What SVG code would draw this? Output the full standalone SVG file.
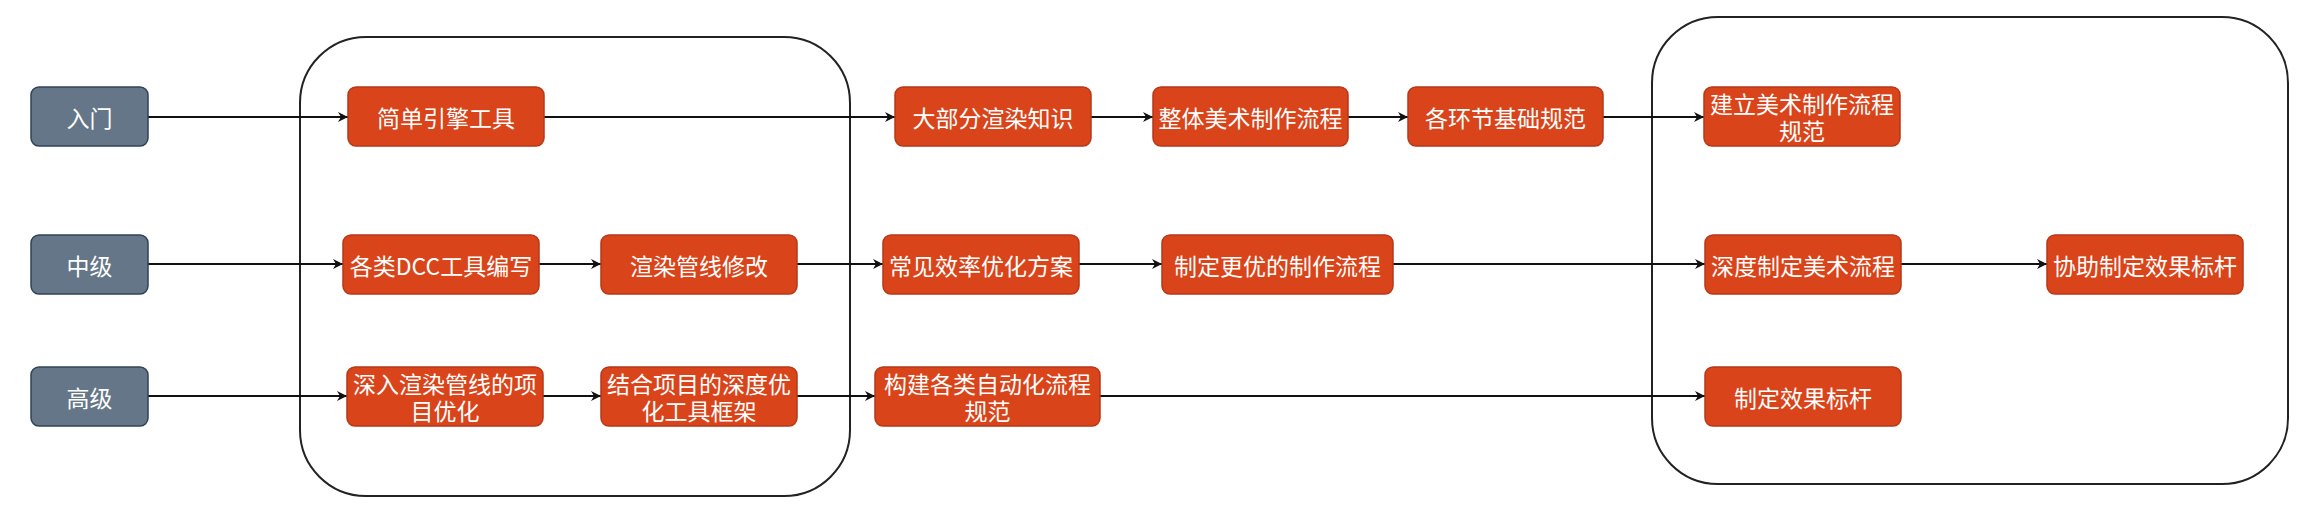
<svg xmlns="http://www.w3.org/2000/svg" width="2317" height="526" viewBox="0 0 2317 526">
<style>
.grp{fill:none;stroke:#222;stroke-width:2}
.lvl{fill:#647687;stroke:#314354;stroke-width:1.5}
.box{fill:#d9441a;stroke:#b5391a;stroke-width:1.5}
.t{font-family:"Noto Sans CJK SC","Noto Sans",sans-serif;font-size:23px;fill:#fff;text-anchor:middle;dominant-baseline:central}
.c{fill:none;stroke:#111;stroke-width:2;marker-end:url(#arr)}
</style>
<defs>
<marker id="arr" viewBox="0 0 10 10" refX="10" refY="5" markerWidth="10" markerHeight="10" markerUnits="userSpaceOnUse" orient="auto">
<path d="M0,0 L10,5 L0,10 L3,5 z" fill="#111"/>
</marker>
</defs>
<rect width="2317" height="526" fill="#fff"/>
<g id="group-left"><rect class="grp" x="300" y="37" width="550" height="459" rx="66" ry="66"/></g>
<g id="group-right"><rect class="grp" x="1652" y="17" width="636" height="467" rx="66" ry="66"/></g>
<g id="connectors">
<line class="c" x1="148" y1="117" x2="348" y2="117"/>
<line class="c" x1="544" y1="117" x2="895" y2="117"/>
<line class="c" x1="1091" y1="117" x2="1153" y2="117"/>
<line class="c" x1="1348" y1="117" x2="1408" y2="117"/>
<line class="c" x1="1603" y1="117" x2="1704" y2="117"/>
<line class="c" x1="148" y1="264" x2="343" y2="264"/>
<line class="c" x1="539" y1="264" x2="601" y2="264"/>
<line class="c" x1="797" y1="264" x2="883" y2="264"/>
<line class="c" x1="1079" y1="264" x2="1162" y2="264"/>
<line class="c" x1="1393" y1="264" x2="1705" y2="264"/>
<line class="c" x1="1901" y1="264" x2="2047" y2="264"/>
<line class="c" x1="148" y1="396" x2="347" y2="396"/>
<line class="c" x1="543" y1="396" x2="601" y2="396"/>
<line class="c" x1="797" y1="396" x2="875" y2="396"/>
<line class="c" x1="1100" y1="396" x2="1705" y2="396"/>
</g>
<g id="n-rumen"><rect class="lvl" x="31" y="87" width="117" height="59" rx="8"/><text class="t" x="89.5" y="116.5">入门</text></g>
<g id="n-zhongji"><rect class="lvl" x="31" y="235" width="117" height="59" rx="8"/><text class="t" x="89.5" y="264.5">中级</text></g>
<g id="n-gaoji"><rect class="lvl" x="31" y="367" width="117" height="59" rx="8"/><text class="t" x="89.5" y="396.5">高级</text></g>
<g id="n1"><rect class="box" x="348" y="87" width="196" height="59" rx="8"/><text class="t" x="446" y="116.5">简单引擎工具</text></g>
<g id="n2"><rect class="box" x="895" y="87" width="196" height="59" rx="8"/><text class="t" x="993" y="116.5">大部分渲染知识</text></g>
<g id="n3"><rect class="box" x="1153" y="87" width="195" height="59" rx="8"/><text class="t" x="1250.5" y="116.5">整体美术制作流程</text></g>
<g id="n4"><rect class="box" x="1408" y="87" width="195" height="59" rx="8"/><text class="t" x="1505.5" y="116.5">各环节基础规范</text></g>
<g id="n5"><rect class="box" x="1704" y="87" width="196" height="59" rx="8"/><text class="t" x="1802" y="103">建立美术制作流程</text><text class="t" x="1802" y="130">规范</text></g>
<g id="n6"><rect class="box" x="343" y="235" width="196" height="59" rx="8"/><text class="t" x="441" y="264.5">各类DCC工具编写</text></g>
<g id="n7"><rect class="box" x="601" y="235" width="196" height="59" rx="8"/><text class="t" x="699" y="264.5">渲染管线修改</text></g>
<g id="n8"><rect class="box" x="883" y="235" width="196" height="59" rx="8"/><text class="t" x="981" y="264.5">常见效率优化方案</text></g>
<g id="n9"><rect class="box" x="1162" y="235" width="231" height="59" rx="8"/><text class="t" x="1277.5" y="264.5">制定更优的制作流程</text></g>
<g id="n10"><rect class="box" x="1705" y="235" width="196" height="59" rx="8"/><text class="t" x="1803" y="264.5">深度制定美术流程</text></g>
<g id="n11"><rect class="box" x="2047" y="235" width="196" height="59" rx="8"/><text class="t" x="2145" y="264.5">协助制定效果标杆</text></g>
<g id="n12"><rect class="box" x="347" y="367" width="196" height="59" rx="8"/><text class="t" x="445" y="383">深入渲染管线的项</text><text class="t" x="445" y="410">目优化</text></g>
<g id="n13"><rect class="box" x="601" y="367" width="196" height="59" rx="8"/><text class="t" x="699" y="383">结合项目的深度优</text><text class="t" x="699" y="410">化工具框架</text></g>
<g id="n14"><rect class="box" x="875" y="367" width="225" height="59" rx="8"/><text class="t" x="987.5" y="383">构建各类自动化流程</text><text class="t" x="987.5" y="410">规范</text></g>
<g id="n15"><rect class="box" x="1705" y="367" width="196" height="59" rx="8"/><text class="t" x="1803" y="396.5">制定效果标杆</text></g>
</svg>
